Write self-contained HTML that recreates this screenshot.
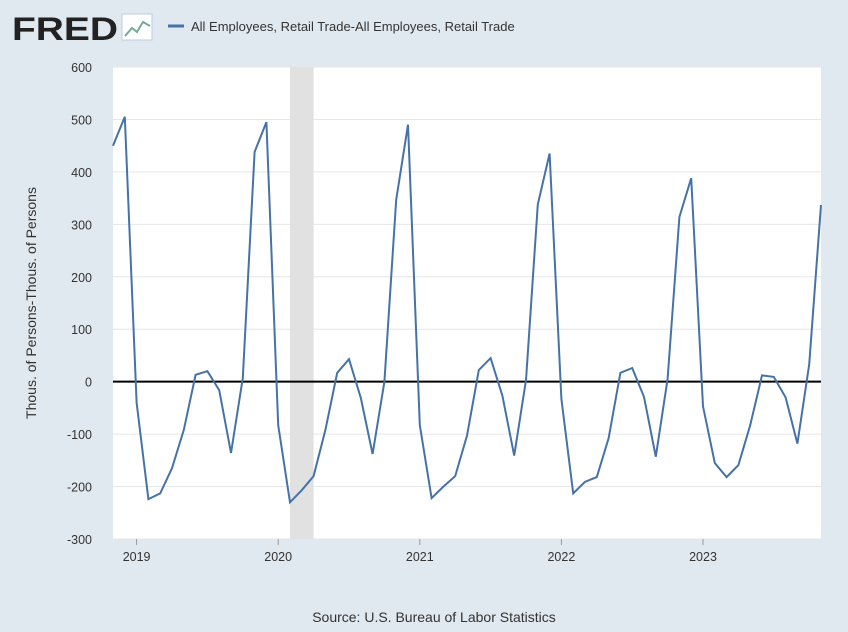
<!DOCTYPE html>
<html><head><meta charset="utf-8"><style>
body{margin:0;width:848px;height:627px;background:#e1e9f0;font-family:"Liberation Sans",sans-serif;overflow:hidden}
</style></head><body>
<svg width="848" height="627">
<g>
<text x="12" y="40" font-size="32" font-weight="bold" fill="#222" font-family="Liberation Sans" textLength="106" lengthAdjust="spacingAndGlyphs">FRED</text>
<rect x="122" y="14" width="30" height="26" fill="#fff" stroke="#bcd" stroke-width="1"/>
<polyline points="125,36 132,28 137,32 143,22 150,26" fill="none" stroke="#7a9" stroke-width="2"/>
</g>
<line x1="168" y1="26" x2="184" y2="26" stroke="#4572a7" stroke-width="3"/>
<text x="191" y="31" font-size="13" fill="#333">All Employees, Retail Trade-All Employees, Retail Trade</text>
<rect x="113" y="67" width="708" height="472" fill="#fff"/>
<g id="grid"></g>
<g id="rec"></g>
<g id="yt"></g>
<g id="xt"></g>
<line x1="113" x2="821" id="zero" stroke="#000" stroke-width="2"/>
<path id="line" fill="none" stroke="#4572a7" stroke-width="2"/>
<text transform="translate(36,303) rotate(-90)" text-anchor="middle" font-size="14" fill="#333">Thous. of Persons-Thous. of Persons</text>
<text x="434" y="622" text-anchor="middle" font-size="14" fill="#333">Source: U.S. Bureau of Labor Statistics</text>
</svg>
<script>
const startMonth=[2018,11];
const values=[450,505,-40,-224,-213,-165,-92,13,20,-16,-136,7,438,495,-83,-230,-207,-180,-92,17,43,-31,-138,0,347,490,-83,-222,-200,-180,-103,22,45,-27,-141,3,338,435,-33,-213,-191,-182,-108,17,26,-29,-143,5,314,388,-47,-155,-182,-159,-83,12,9,-30,-118,33,337];
const yTicks=[600,500,400,300,200,100,0,-100,-200,-300];
const xTicks=[2019,2020,2021,2022,2023];
const recessions=[[2020.083,2020.25]];
const NS="http://www.w3.org/2000/svg";
const x0=113,x1=821,yTop=67,yBot=539;
const tStart=startMonth[0]+(startMonth[1]-1)/12,tEnd=tStart+(values.length-1)/12;
const X=t=>x0+(t-tStart)/(tEnd-tStart)*(x1-x0);
const Y=v=>yTop+(600-v)/900*(yBot-yTop);
function mk(tag,attrs,parent,txt){const e=document.createElementNS(NS,tag);for(const k in attrs)e.setAttribute(k,attrs[k]);if(txt!=null)e.textContent=txt;document.getElementById(parent).appendChild(e);return e;}
yTicks.forEach(v=>{
 const g=mk('line',{x1:x0,x2:x1,y1:Y(v),y2:Y(v),stroke:'#e6e6e6'},'grid');
 
 
 const t=mk('text',{x:92,y:Y(v)+5,'text-anchor':'end','font-size':12.5,fill:'#333'},'yt',v);
 
 
});
xTicks.forEach(yr=>{
 const x=X(yr);
 const l=mk('line',{x1:x,x2:x,y1:yBot,y2:yBot+6,stroke:'#999'},'xt');
 
 
 const t=mk('text',{x:x,y:yBot+22,'text-anchor':'middle','font-size':12.5,fill:'#333'},'xt',yr);
 
 
});
recessions.forEach(r=>{
 const e=mk('rect',{x:X(r[0]),y:yTop,width:X(r[1])-X(r[0]),height:yBot-yTop,fill:'#e1e1e1'},'rec');
 
 
});
const z=document.getElementById('zero');z.setAttribute('y1',Y(0));z.setAttribute('y2',Y(0));
document.getElementById('line').setAttribute('d',values.map((v,i)=>(i?'L':'M')+X(tStart+i/12).toFixed(1)+','+Y(v).toFixed(1)).join(''));
</script>
</body></html>
